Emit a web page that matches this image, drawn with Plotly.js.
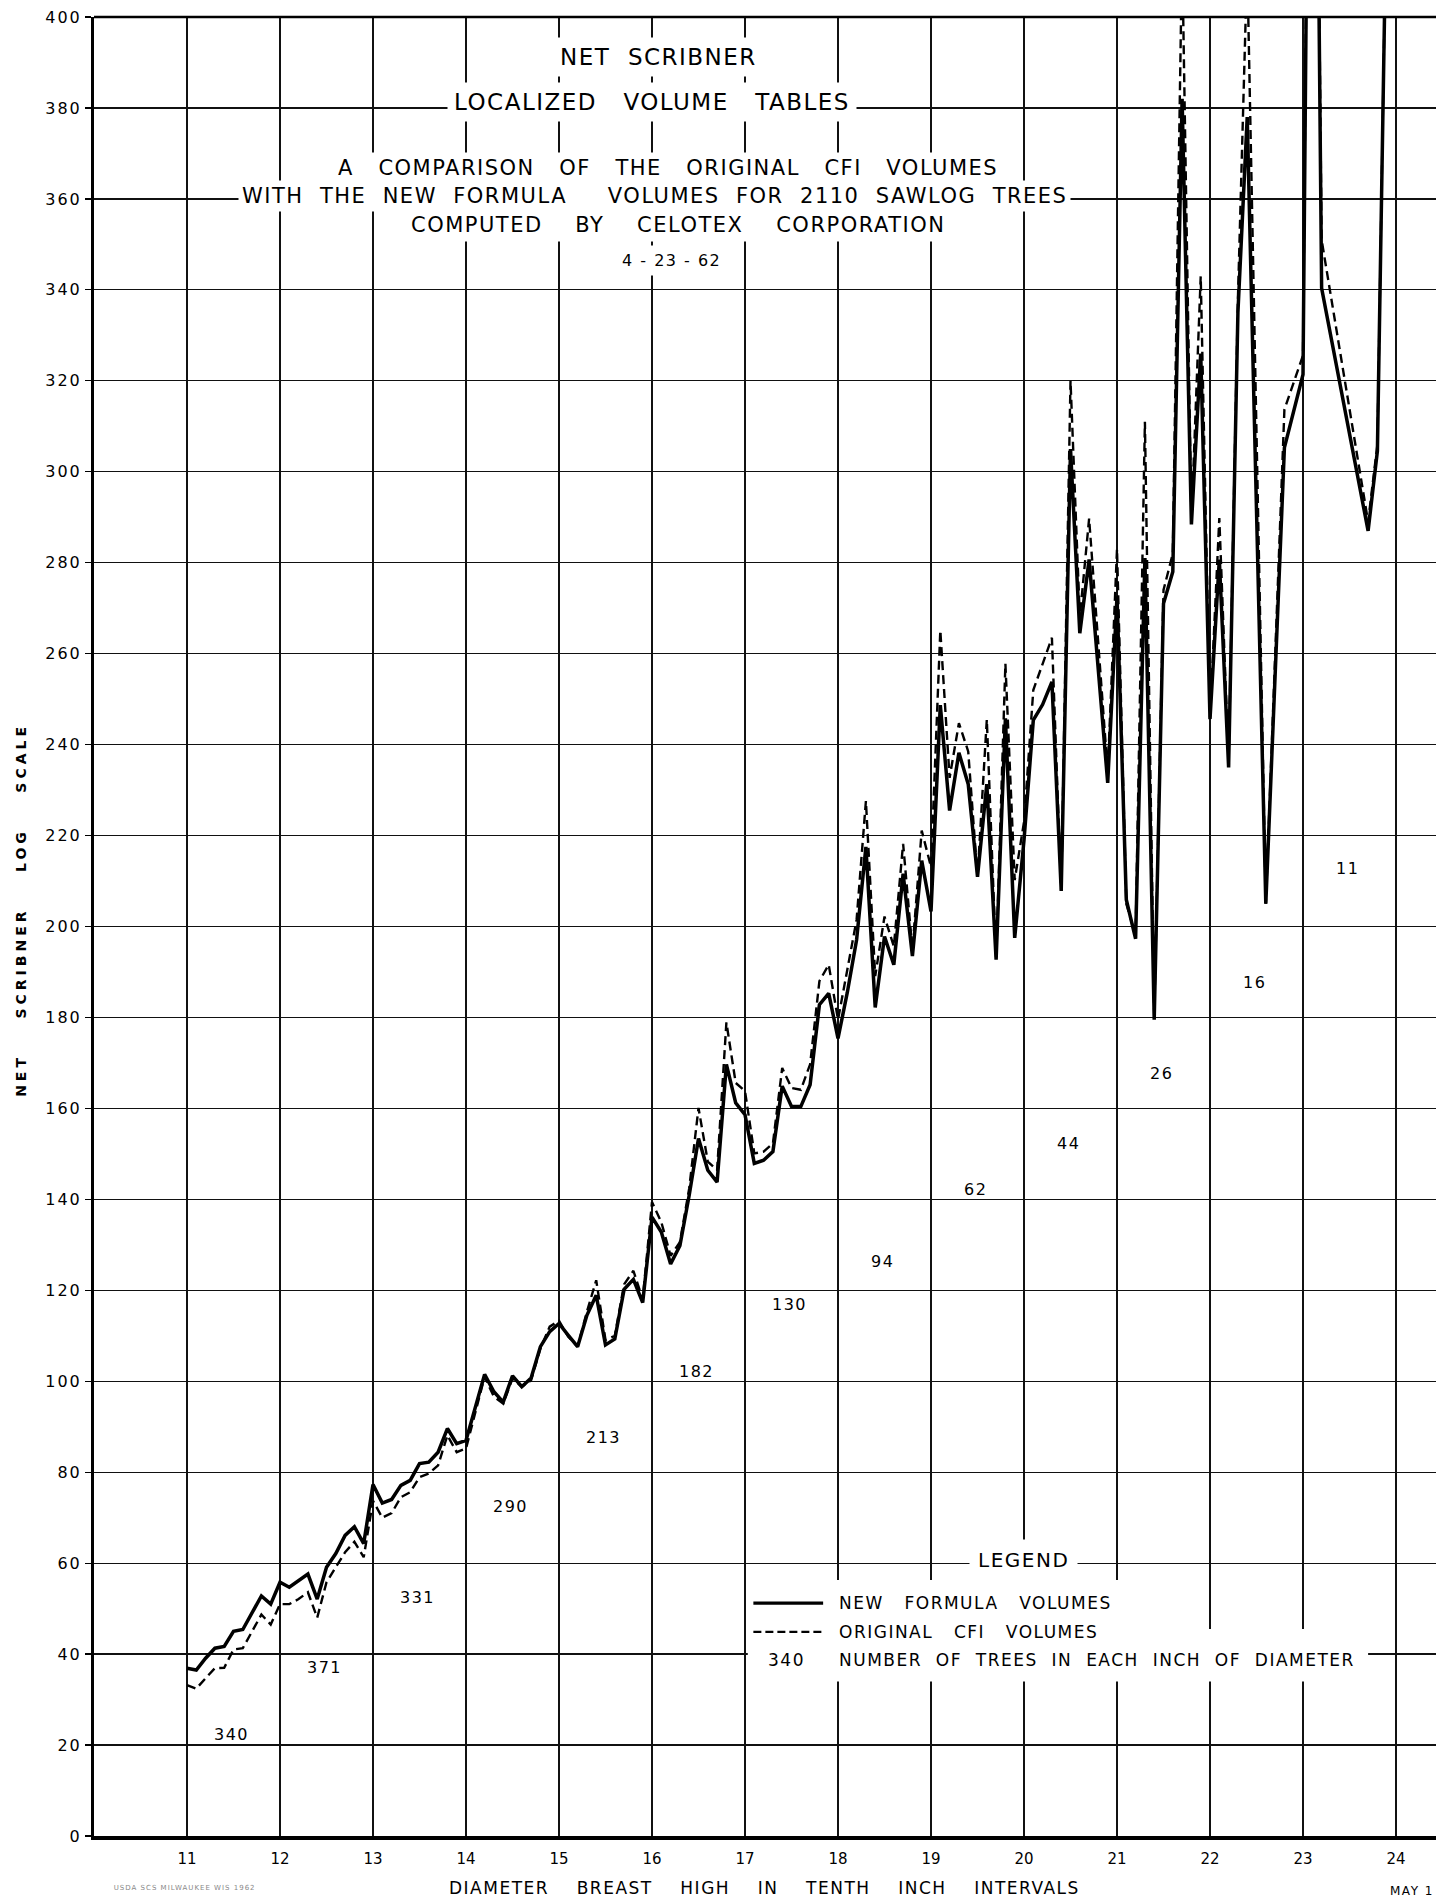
<!DOCTYPE html>
<html>
<head>
<meta charset="utf-8">
<script src="https://cdn.plot.ly/plotly-3.0.1.min.js"></script>
<style>
html,body{margin:0;padding:0;background:#fff;}
#chart{width:1436px;height:1899px;}
.annotation-text{letter-spacing:1.5px;}
.ytick text{letter-spacing:2px;}
</style>
</head>
<body>
<div id="chart"></div>
<script>
// ---------------- DATA ----------------
const DIAMETER = [
  11.0,11.1,11.2,11.3,11.4,11.5,11.6,11.7,11.8,11.9,
  12.0,12.1,12.2,12.3,12.4,12.5,12.6,12.7,12.8,12.9,
  13.0,13.1,13.2,13.3,13.4,13.5,13.6,13.7,13.8,13.9,
  14.0,14.1,14.2,14.3,14.4,14.5,14.6,14.7,14.8,14.9,
  15.0,15.1,15.2,15.3,15.4,15.5,15.6,15.7,15.8,15.9,
  16.0,16.1,16.2,16.3,16.4,16.5,16.6,16.7,16.8,16.9,
  17.0,17.1,17.2,17.3,17.4,17.5,17.6,17.7,17.8,17.9,
  18.0,18.1,18.2,18.3,18.4,18.5,18.6,18.7,18.8,18.9,
  19.0,19.1,19.2,19.3,19.4,19.5,19.6,19.7,19.8,19.9,
  20.0,20.1,20.2,20.3,20.4,20.5,20.6,20.7,20.8,20.9,
  21.0,21.1,21.2,21.3,21.4,21.5,21.6,21.7,21.8,21.9,
  22.0,22.1,22.2,22.3,22.4,22.5,22.6,22.7,22.8,22.9,
  23.0,23.1,23.2,23.3,23.4,23.5,23.6,23.7,23.8,23.9
];

const NEW_FORMULA_VOLUMES = [
  36.9,36.5,39.1,41.3,41.7,45.0,45.4,49.1,52.8,51.0,
  55.8,54.7,56.1,57.6,52.1,59.1,62.1,66.1,68.0,64.3,
  77.3,73.2,74.0,77.1,78.2,81.9,82.2,84.4,89.6,86.3,
  87.0,94.0,101.5,97.7,95.4,101.2,98.8,100.7,107.6,110.9,
  112.7,110.1,107.6,114.5,118.9,108.0,109.3,120.2,122.4,117.3,
  136.1,132.8,125.8,129.8,140.9,153.4,146.4,143.8,169.7,161.2,
  158.6,147.9,148.6,150.5,164.9,160.4,160.4,165.2,182.8,185.3,
  175.4,185.5,197.1,217.5,182.2,197.8,191.6,211.6,193.5,214.5,
  203.3,248.7,225.5,238.2,231.3,210.9,231.3,192.7,245.8,197.5,
  219.0,245.4,248.8,253.8,207.8,305.0,264.5,280.7,null,231.6,
  272.6,205.9,197.3,281.0,179.5,271.0,278.0,382.0,288.4,326.0,
  245.6,280.7,235.0,335.0,378.0,null,205.0,null,305.3,null,
  321.4,560.0,340.4,null,null,null,null,287.0,304.6,430.0
];

const ORIGINAL_CFI_VOLUMES = [
  33.2,32.4,34.7,36.9,37.0,41.0,41.3,45.0,48.7,46.5,
  51.0,51.0,52.1,53.6,48.0,55.8,59.1,62.4,64.7,61.3,
  73.7,70.0,71.0,74.5,75.6,78.9,79.7,81.5,88.1,84.4,
  85.2,93.2,101.0,96.6,95.1,100.6,98.8,100.2,107.2,112.0,
  113.3,109.8,107.6,115.3,122.2,109.1,110.0,121.3,124.3,118.0,
  139.4,135.0,127.6,130.6,142.4,160.1,148.3,146.4,178.9,165.6,
  163.8,150.1,150.5,152.3,168.9,164.5,164.1,169.7,188.0,191.6,
  179.5,190.5,201.5,227.6,189.1,202.2,195.6,218.2,194.9,221.1,
  213.1,265.1,232.7,244.7,238.5,210.9,245.5,192.7,257.8,210.2,
  223.0,252.0,258.0,263.5,207.8,320.0,268.0,289.7,null,234.0,
  283.0,205.0,198.0,311.0,180.0,274.0,282.0,415.0,289.0,343.0,
  246.0,289.8,236.0,338.0,412.0,null,205.0,null,313.7,null,
  325.6,560.0,351.0,null,null,null,null,289.0,306.0,430.0
];

const DIAMETER_CLASS = [11,12,13,14,15,16,17,18,19,20,21,22,23];
const TREES_PER_INCH = [340,371,331,290,213,182,130,94,62,44,26,16,11];

const X_TICKS = [11,12,13,14,15,16,17,18,19,20,21,22,23,24];
const Y_TICKS = [0,20,40,60,80,100,120,140,160,180,200,220,240,260,280,300,320,340,360,380,400];

// ---------------- HELPERS ----------------
const FONT = 'DejaVu Sans, Liberation Sans, Arial, sans-serif';
const NB = n => '\u00a0'.repeat(n);
const words = (arr, n) => arr.join(NB(n));

// ---------------- TRACES ----------------
const traces = [
  {
    x: DIAMETER, y: ORIGINAL_CFI_VOLUMES, type: 'scatter', mode: 'lines',
    connectgaps: true, hoverinfo: 'skip', showlegend: false,
    line: {color: '#000', width: 2.4, dash: '9px,5px'}
  },
  {
    x: DIAMETER, y: NEW_FORMULA_VOLUMES, type: 'scatter', mode: 'lines',
    connectgaps: true, hoverinfo: 'skip', showlegend: false,
    line: {color: '#000', width: 3.5}
  }
];

// ---------------- ANNOTATIONS ----------------
const annotations = [];
function paperText(text, x, y, size, opts) {
  annotations.push(Object.assign({
    xref: 'paper', yref: 'paper', x: x, y: y, text: text, showarrow: false,
    xanchor: 'center', yanchor: 'middle', font: {size: size, color: '#000', family: FONT},
    bgcolor: '#fff', borderpad: 6
  }, opts || {}));
}

// title block
paperText(words(['NET','SCRIBNER'],2), 0.4203, 0.978, 23);
paperText(words(['LOCALIZED','VOLUME','TABLES'],3), 0.4158, 0.9533, 23);
paperText(words(['A','COMPARISON','OF','THE','ORIGINAL','CFI','VOLUMES'],3), 0.4277, 0.9170, 21, {borderpad: 3});
paperText(words(['WITH','THE','NEW','FORMULA'],2) + NB(5) + words(['VOLUMES','FOR','2110','SAWLOG','TREES'],2), 0.4173, 0.9016, 21, {borderpad: 3});
paperText(words(['COMPUTED','BY','CELOTEX','CORPORATION'],4), 0.4352, 0.8857, 21, {borderpad: 4});
paperText(words(['4','-','23','-','62'],1), 0.4300, 0.8664, 16, {borderpad: 5});

// axis titles
paperText(words(['NET','SCRIBNER','LOG','SCALE'],4), -0.0544, 0.509, 14,
  {textangle: -90, bgcolor: 'rgba(0,0,0,0)', font: {size: 14, color: '#000', family: FONT, weight: 'bold'}});
paperText(words(['DIAMETER','BREAST','HIGH','IN','TENTH','INCH','INTERVALS'],4), 0.4993, -0.0286, 17,
  {bgcolor: 'rgba(0,0,0,0)'});
paperText('USDA SCS MILWAUKEE WIS 1962', 0.0045, -0.0286, 7,
  {xanchor: 'left', bgcolor: 'rgba(0,0,0,0)', font: {size: 7, color: '#888', family: FONT}});
paperText('MAY 1', 0.9995, -0.0300, 12, {xanchor: 'right', bgcolor: 'rgba(0,0,0,0)', borderpad: 0});

// tree counts per inch class
const COUNT_LABEL_Y = [22.4,37.0,52.4,72.4,87.6,102.2,116.8,126.4,142.1,152.2,167.7,187.6,212.7];
DIAMETER_CLASS.forEach((d, i) => {
  annotations.push({
    xref: 'x', yref: 'y', x: d + 0.48, y: COUNT_LABEL_Y[i], text: String(TREES_PER_INCH[i]),
    showarrow: false, xanchor: 'center', yanchor: 'middle',
    font: {size: 16, color: '#000', family: FONT}
  });
});

// legend
annotations.push({xref:'x', yref:'y', x:19.99, y:60.8, text:'LEGEND', showarrow:false,
  xanchor:'center', yanchor:'middle', font:{size:20, color:'#000', family:FONT}, bgcolor:'#fff', borderpad:8});
annotations.push({xref:'x', yref:'y', x:17.97, y:51.2, text:words(['NEW','FORMULA','VOLUMES'],3), showarrow:false,
  xanchor:'left', yanchor:'middle', font:{size:17, color:'#000', family:FONT}, bgcolor:'#fff', borderpad:3});
annotations.push({xref:'x', yref:'y', x:17.97, y:44.9, text:words(['ORIGINAL','CFI','VOLUMES'],3), showarrow:false,
  xanchor:'left', yanchor:'middle', font:{size:17, color:'#000', family:FONT}, bgcolor:'#fff', borderpad:3});
annotations.push({xref:'x', yref:'y', x:17.45, y:38.7, text:String(TREES_PER_INCH[0]), showarrow:false,
  xanchor:'center', yanchor:'middle', font:{size:17, color:'#000', family:FONT}, bgcolor:'#fff', borderpad:3});
annotations.push({xref:'x', yref:'y', x:17.97, y:38.7,
  text:words(['NUMBER','OF','TREES','IN','EACH','INCH','OF','DIAMETER'],2), showarrow:false,
  xanchor:'left', yanchor:'middle', font:{size:17, color:'#000', family:FONT}, bgcolor:'#fff', borderpad:3});

// ---------------- SHAPES ----------------
const shapes = [
  {type:'line', xref:'paper', yref:'paper', x0:0, x1:1, y0:1, y1:1, line:{color:'#000', width:2.5}},
  {type:'rect', xref:'x', yref:'y', x0:17.03, x1:21.97, y0:34.0, y1:56.3, fillcolor:'#fff', line:{width:0}, layer:'above'},
  {type:'rect', xref:'x', yref:'y', x0:21.97, x1:23.70, y0:34.0, y1:45.5, fillcolor:'#fff', line:{width:0}, layer:'above'},
  {type:'line', xref:'x', yref:'y', x0:17.09, x1:17.84, y0:51.2, y1:51.2, line:{color:'#000', width:3.2}, layer:'above'},
  {type:'line', xref:'x', yref:'y', x0:17.09, x1:17.84, y0:44.9, y1:44.9, line:{color:'#000', width:2.2, dash:'8px,4px'}, layer:'above'}
];

// ---------------- LAYOUT ----------------
const layout = {
  width: 1436, height: 1899,
  margin: {l: 94, r: 0, t: 17, b: 63, pad: 0},
  paper_bgcolor: '#fff', plot_bgcolor: '#fff',
  font: {family: FONT, color: '#000'},
  showlegend: false,
  xaxis: {
    range: [10, 24.43], tickvals: X_TICKS, ticktext: X_TICKS.map(String),
    showgrid: true, gridcolor: '#111', gridwidth: 1.2,
    showline: true, linecolor: '#000', linewidth: 4,
    zeroline: false, ticks: '', ticklabelstandoff: 6,
    tickfont: {size: 15, family: FONT, color: '#000'}, fixedrange: true
  },
  yaxis: {
    range: [0, 400], tickvals: Y_TICKS, ticktext: Y_TICKS.map(String),
    showgrid: true, gridcolor: '#111', gridwidth: 1.2,
    showline: true, linecolor: '#000', linewidth: 3,
    zeroline: false, ticks: 'outside', ticklen: 6, tickwidth: 1.2, tickcolor: '#000',
    tickfont: {size: 16, family: FONT, color: '#000'}, fixedrange: true
  },
  annotations: annotations,
  shapes: shapes
};

Plotly.newPlot('chart', traces, layout, {staticPlot: true, displayModeBar: false}).then(gd => {
  gd.querySelectorAll('.annotation-text').forEach(t => {
    const s = t.textContent;
    if (s.indexOf('SCRIBNER') >= 0 && s.indexOf('SCALE') >= 0) t.style.letterSpacing = '4px';
    if (s.indexOf('USDA') === 0) t.style.letterSpacing = '1px';
  });
});
</script>
</body>
</html>
